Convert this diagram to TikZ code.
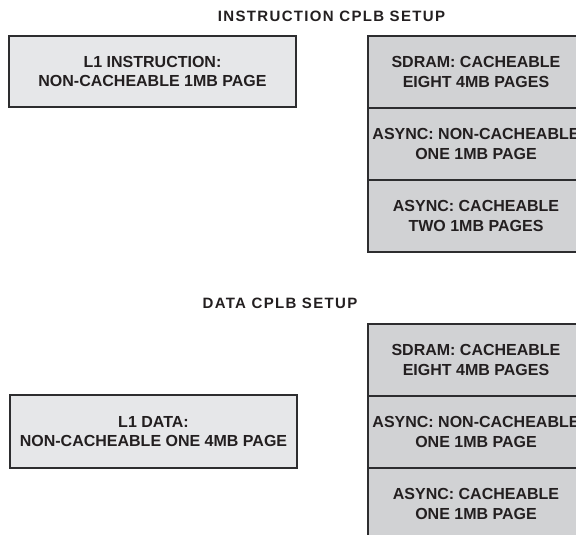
\documentclass[tikz,border=0pt]{standalone}
\usepackage{fontspec}
\setmainfont{Liberation Sans}
\newfontfamily\titlefont[LetterSpace=9]{Liberation Sans}
\usepackage{xcolor}
\definecolor{cplbtext}{RGB}{35,31,32}
\definecolor{cplbline}{RGB}{45,45,47}
\definecolor{lonefill}{RGB}{230,231,233}
\definecolor{cplbfill}{RGB}{209,210,212}
\usetikzlibrary{positioning,fit}

\begin{document}
\begin{tikzpicture}[x=1pt, y=-1pt,
    ttl/.style={font=\titlefont\fontsize{15}{17}\selectfont\bfseries,
                text=cplbtext},
    lone/.style={rectangle, minimum width=287pt, minimum height=71pt,
                 align=center, font=\fontsize{16}{19.5}\selectfont\bfseries,
                 text=cplbtext, draw=cplbline, line width=1.2pt, fill=lonefill},
    cplb/.style={rectangle, minimum width=216pt, minimum height=72pt,
                 inner sep=0pt, outer sep=0pt, align=center,
                 font=\fontsize{16}{19.5}\selectfont\bfseries,
                 text=cplbtext, draw=cplbline, line width=1.2pt, fill=cplbfill},
    frm/.style={rectangle, inner sep=0pt, draw=cplbline}
  ]
    \useasboundingbox (0,0) rectangle (576,535);
    \clip (0,0) rectangle (576,535);

    % Instruction setup
    \node[ttl] (titleI) at (331.5,16.5) {INSTRUCTION CPLB SETUP};
    \node[lone] (loneI) at (152.5,71.5) {L1 INSTRUCTION:\\NON-CACHEABLE 1MB PAGE};
    \node[cplb, anchor=north west] (sdramI) at (368,36) {SDRAM: CACHEABLE\\EIGHT 4MB PAGES};
    \node[cplb, below=0pt of sdramI] (uncI) {ASYNC: NON-CACHEABLE\\ONE 1MB PAGE};
    \node[cplb, below=0pt of uncI] (cacheI) {ASYNC: CACHEABLE\\TWO 1MB PAGES};
    \node[frm, line width=2.8pt, fit=(sdramI)(cacheI)] (stackI) {};

    % Data setup
    \node[ttl] (titleD) at (280,303.5) {DATA CPLB SETUP};
    \node[lone, minimum height=73pt] (loneD) at (153.5,431.5) {L1 DATA:\\NON-CACHEABLE ONE 4MB PAGE};
    \node[cplb, anchor=north west] (sdramD) at (368,324) {SDRAM: CACHEABLE\\EIGHT 4MB PAGES};
    \node[cplb, below=0pt of sdramD] (uncD) {ASYNC: NON-CACHEABLE\\ONE 1MB PAGE};
    \node[cplb, below=0pt of uncD] (cacheD) {ASYNC: CACHEABLE\\ONE 1MB PAGE};
  \end{tikzpicture}
\end{document}
